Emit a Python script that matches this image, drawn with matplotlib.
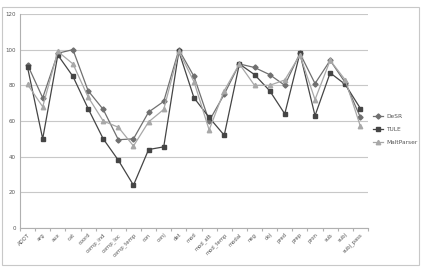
import matplotlib
matplotlib.use('Agg')
import matplotlib.pyplot as plt
from matplotlib.patches import Rectangle

labels = ['ADOT', 'arg', 'aux', 'cat', 'coord', 'comp_ind', 'comp_loc', 'comp_temp',
          'con', 'conj', 'det', 'mod', 'mod_att', 'mod_temp', 'modal', 'neg', 'obj',
          'pred', 'prep', 'pron', 'sub', 'subj', 'subj_pass']
desr = [91.5, 73, 98, 100, 77, 66.5, 49.5, 50, 65, 71, 100, 85, 60, 75, 92,
        90, 86, 80, 98, 81, 94, 81.5, 62]
tule = [90, 50, 97, 85, 67, 50, 38, 24, 44, 45.5, 99, 73, 62, 52, 92,
        86, 77, 64, 98, 63, 87, 80.5, 67]
malt = [80.5, 68, 99, 92, 73.5, 60, 56.5, 46, 59.5, 66.5, 99, 82, 55, 77, 92,
        80, 80, 83, 97, 72, 94, 83, 57]

fig = plt.figure(figsize=(4.22, 2.67), dpi=100)
fig.patches.append(Rectangle((0.004, 0.007), 0.988, 0.966, transform=fig.transFigure,
                             fill=False, edgecolor='#c8c8c8', lw=0.8))
ax = fig.add_axes([0.0474, 0.146, 0.8246, 0.8016])

x = [i + 0.5 for i in range(len(labels))]
ax.plot(x, desr, color='#707070', lw=0.9, marker='D', ms=2.6, label='DeSR')
ax.plot(x, tule, color='#454545', lw=0.9, marker='s', ms=3.2, label='TULE')
ax.plot(x, malt, color='#a8a8a8', lw=0.9, marker='^', ms=3.2, label='MaltParser')

ax.set_xlim(0, len(labels))
ax.set_ylim(0, 120)
ax.set_yticks(range(0, 121, 20))
ax.set_xticks(range(len(labels) + 1))
ax.set_xticklabels([])
ax.set_xticks(x, minor=True)
ax.set_xticklabels(labels, minor=True, rotation=45, ha='right', rotation_mode='anchor',
                   fontsize=3.8, color='#555555')
ax.tick_params(axis='x', which='minor', length=0, pad=3)
ax.tick_params(axis='x', which='major', length=2, color='#b0b0b0')
ax.tick_params(axis='y', length=0, labelsize=4, labelcolor='#555555', pad=3)
ax.grid(axis='y', color='#c8c8c8', lw=0.8)
ax.set_axisbelow(True)
for s in ['top', 'right']:
    ax.spines[s].set_visible(False)
ax.spines['left'].set_color('#b0b0b0')
ax.spines['bottom'].set_color('#b0b0b0')
ax.spines['left'].set_linewidth(0.8)
ax.spines['bottom'].set_linewidth(0.8)

ax.legend(loc='center left', bbox_to_anchor=(1.0, 0.46), frameon=False, fontsize=4.2,
          handlelength=1.6, handletextpad=0.6, labelspacing=1.3,
          labelcolor='#555555', borderaxespad=0.5)

fig.savefig('out.png', dpi=100)
